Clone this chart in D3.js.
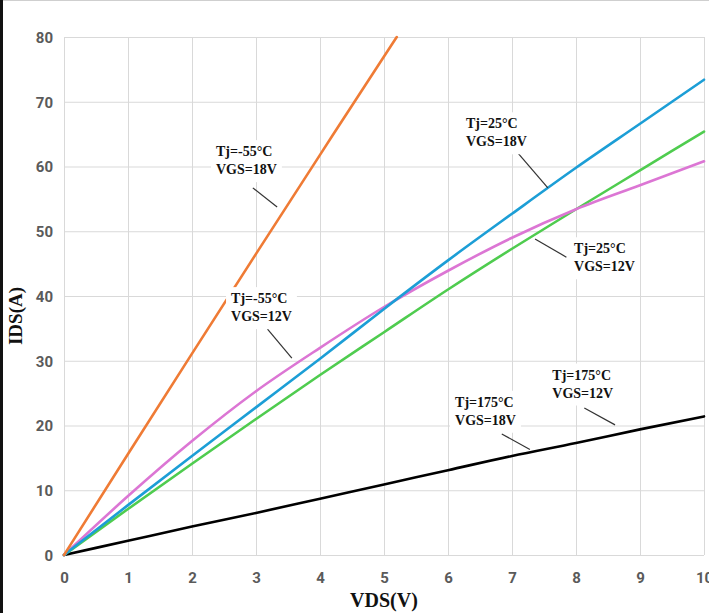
<!DOCTYPE html>
<html>
<head>
<meta charset="utf-8">
<script src="https://cdn.jsdelivr.net/npm/d3@7"></script>
<style>
  body { margin: 0; background: #fff; }
  .tick text { font-family: Roboto, "Liberation Sans", sans-serif; font-weight: bold; font-size: 15px; fill: #5a5a5a; }
  .tick line { stroke: #d9d9d9; stroke-width: 1; }
  .note { font-family: "Liberation Serif", "Times New Roman", serif; font-weight: bold; font-size: 14px; fill: #111; }
  .title { font-family: "Liberation Serif", "Times New Roman", serif; font-weight: bold; fill: #111; }
</style>
</head>
<body>
<div id="vis"></div>
<script>
// frame
const FRAME_WIDTH = 709;
const FRAME_HEIGHT = 613;
const MARGINS = {left: 64, right: 5, top: 37, bottom: 58};
const VIS_WIDTH = FRAME_WIDTH - MARGINS.left - MARGINS.right;
const VIS_HEIGHT = FRAME_HEIGHT - MARGINS.top - MARGINS.bottom;

// data
const VDS = [0, 1, 2, 3, 4, 5, 6, 7, 8, 9, 10];
const VDS_ORANGE = [0, 1, 2, 3, 4, 5, 5.2];
const IDS_M55_18V = [0, 15.6, 31.1, 46.5, 61.8, 77.0, 80];
const IDS_25_18V = [0, 7.7, 15.3, 22.8, 30.3, 38.0, 45.5, 52.7, 59.8, 66.6, 73.4];
const IDS_25_12V = [0, 7.1, 14.1, 21.0, 27.8, 34.4, 41.0, 47.3, 53.4, 59.4, 65.4];
const IDS_M55_12V = [0, 9.1, 17.6, 25.3, 32.0, 38.3, 43.9, 49.0, 53.4, 57.1, 60.8];
const IDS_175 = [0, 2.2, 4.4, 6.5, 8.7, 10.9, 13.1, 15.3, 17.3, 19.4, 21.4];

const X_TICKS = [0, 1, 2, 3, 4, 5, 6, 7, 8, 9, 10];
const Y_TICKS = [0, 10, 20, 30, 40, 50, 60, 70, 80];

const SERIES = [
  {x: VDS, y: IDS_175, color: "#000000"},
  {x: VDS, y: IDS_25_12V, color: "#4fcc4f"},
  {x: VDS, y: IDS_M55_12V, color: "#dc76d4"},
  {x: VDS, y: IDS_25_18V, color: "#1c9ed6"},
  {x: VDS_ORANGE, y: IDS_M55_18V, color: "#ef7b35"}
];

// annotations: text anchor and leader line, in data units
const NOTES = [
  {lines: ["Tj=-55°C", "VGS=18V"], at: [2.375, 61.6], lead: [[2.95, 56.7], [3.33, 53.75]]},
  {lines: ["Tj=25°C", "VGS=18V"], at: [6.28, 65.9], lead: [[7.09, 62.1], [7.56, 56.7]]},
  {lines: ["Tj=25°C", "VGS=12V"], at: [7.97, 46.6], lead: [[7.36, 48.8], [7.85, 46.0]]},
  {lines: ["Tj=-55°C", "VGS=12V"], at: [2.61, 38.9], lead: [[3.18, 34.9], [3.56, 30.4]]},
  {lines: ["Tj=175°C", "VGS=18V"], at: [6.11, 22.9], lead: [[6.84, 18.7], [7.28, 16.3]]},
  {lines: ["Tj=175°C", "VGS=12V"], at: [7.63, 27.1], lead: [[8.13, 22.7], [8.61, 20.1]]}
];

const svg = d3.select("#vis")
  .append("svg")
  .attr("width", FRAME_WIDTH)
  .attr("height", FRAME_HEIGHT);

// page edges
svg.append("line").attr("x1", 0).attr("x2", FRAME_WIDTH).attr("y1", 0.5).attr("y2", 0.5)
  .attr("stroke", "#cfcfcf");
svg.append("rect").attr("x", 0).attr("y", 0).attr("width", 3).attr("height", FRAME_HEIGHT)
  .attr("fill", "#111");

const X_SCALE = d3.scaleLinear().domain([0, 10]).range([MARGINS.left, MARGINS.left + VIS_WIDTH]);
const Y_SCALE = d3.scaleLinear().domain([0, 80]).range([MARGINS.top + VIS_HEIGHT, MARGINS.top]);

// grid + axes
svg.append("g")
  .attr("transform", "translate(0," + (MARGINS.top + VIS_HEIGHT) + ")")
  .call(d3.axisBottom(X_SCALE).tickValues(X_TICKS).tickSize(-VIS_HEIGHT).tickPadding(17))
  .call(g => g.select(".domain").remove());

svg.append("g")
  .attr("transform", "translate(" + MARGINS.left + ",0)")
  .call(d3.axisLeft(Y_SCALE).tickValues(Y_TICKS).tickSize(-VIS_WIDTH).tickPadding(11))
  .call(g => g.select(".domain").remove())
  .call(g => g.selectAll(".tick text").attr("dy", "0.36em"));

// curves
const line = d3.line()
  .x(d => X_SCALE(d[0]))
  .y(d => Y_SCALE(d[1]))
  .curve(d3.curveMonotoneX);

svg.append("g")
  .selectAll("path")
  .data(SERIES)
  .join("path")
  .attr("d", s => line(s.x.map((v, i) => [v, s.y[i]])))
  .attr("fill", "none")
  .attr("stroke", s => s.color)
  .attr("stroke-width", 2.6)
  .attr("stroke-linecap", "round");

// annotations
const notes = svg.append("g");
NOTES.forEach(n => {
  notes.append("line")
    .attr("x1", X_SCALE(n.lead[0][0])).attr("y1", Y_SCALE(n.lead[0][1]))
    .attr("x2", X_SCALE(n.lead[1][0])).attr("y2", Y_SCALE(n.lead[1][1]))
    .attr("stroke", "#333").attr("stroke-width", 1.2);
  const g = notes.append("g")
    .attr("transform", "translate(" + X_SCALE(n.at[0]) + "," + Y_SCALE(n.at[1]) + ")");
  const bg = g.append("rect").attr("fill", "#fff");
  n.lines.forEach((t, i) => {
    g.append("text").attr("class", "note").attr("x", 0).attr("y", i * 18).text(t);
  });
  const bb = g.node().getBBox();
  bg.attr("x", -5).attr("y", -16)
    .attr("width", bb.width + 10).attr("height", 18 * n.lines.length + 6);
});

// axis titles
svg.append("text")
  .attr("class", "title")
  .attr("x", X_SCALE(5))
  .attr("y", 607)
  .attr("text-anchor", "middle")
  .attr("font-size", "20px")
  .text("VDS(V)");

svg.append("text")
  .attr("class", "title")
  .attr("transform", "translate(22," + 316 + ") rotate(-90)")
  .attr("text-anchor", "middle")
  .attr("font-size", "19px")
  .text("IDS(A)");
</script>
</body>
</html>
